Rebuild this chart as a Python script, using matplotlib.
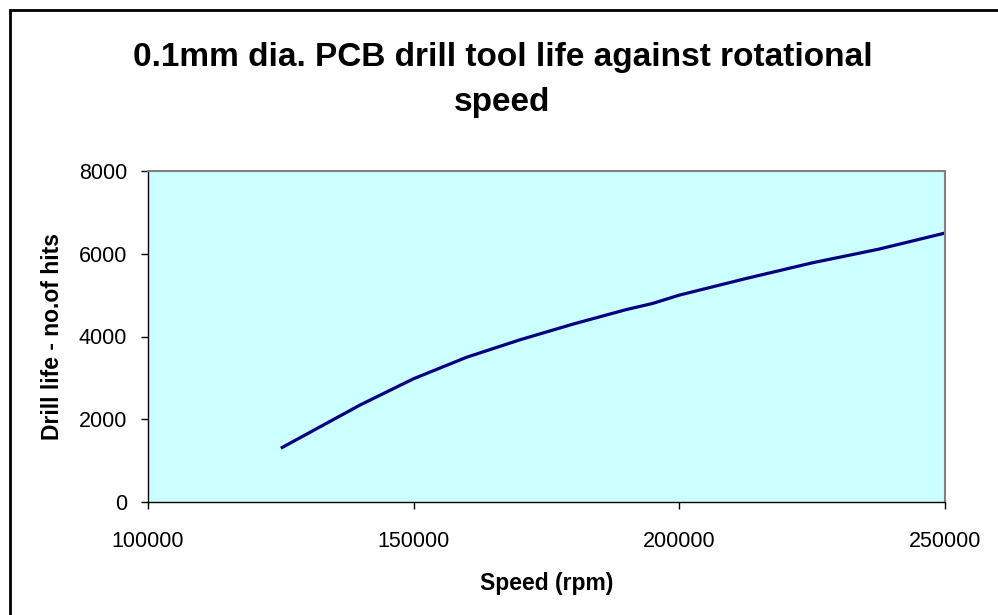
import matplotlib
matplotlib.use("Agg")
import matplotlib.pyplot as plt
from matplotlib.patches import Rectangle

# drill life vs spindle speed
speed = [125000, 140000, 150000, 160000, 170000, 180000, 190000, 195000,
         200000, 212500, 225000, 237500, 250000]
life = [1300, 2350, 2980, 3500, 3920, 4300, 4650, 4800,
        5000, 5400, 5780, 6110, 6500]

xticks = [100000, 150000, 200000, 250000]
yticks = [0, 2000, 4000, 6000, 8000]

plt.rcParams['font.family'] = ['Liberation Sans', 'DejaVu Sans']

fig = plt.figure(figsize=(9.98, 6.15), dpi=100)
ax = fig.add_axes([148/998, 1-502/615, (945-148)/998, (502-171)/615])

ax.set_facecolor('#CCFFFF')
ax.plot(speed, life, color='#000080', lw=2.3, solid_capstyle='butt')

ax.set_xlim(100000, 250000)
ax.set_ylim(0, 8000)
ax.set_xticks(xticks)
ax.set_yticks(yticks)
ax.tick_params(axis='both', direction='out', length=5, width=1, labelsize=15.5)
ax.tick_params(axis='x', pad=16)
ax.tick_params(axis='y', pad=10)

for s in ['top', 'right']:
    ax.spines[s].set_color('#808080')
    ax.spines[s].set_linewidth(1.5)
for s in ['left', 'bottom']:
    ax.spines[s].set_color('black')
    ax.spines[s].set_linewidth(1)

ax.set_xlabel('Speed (rpm)', fontsize=16.5, fontweight='bold', labelpad=14)
ax.set_ylabel('Drill life - no.of hits', fontsize=16.5, fontweight='bold', labelpad=11)

fig.text(0.5035, 1-80/615, '0.1mm dia. PCB drill tool life against rotational\nspeed',
         ha='center', va='center', fontsize=24, fontweight='bold', linespacing=1.6)

# chart area border (only top/left visible in the crop)
fig.patches.append(Rectangle((10/998, -0.1), 1.2, 1-9.5/615+0.1, transform=fig.transFigure,
                             fill=False, edgecolor='black', lw=2))

fig.savefig('out.png', dpi=100)
